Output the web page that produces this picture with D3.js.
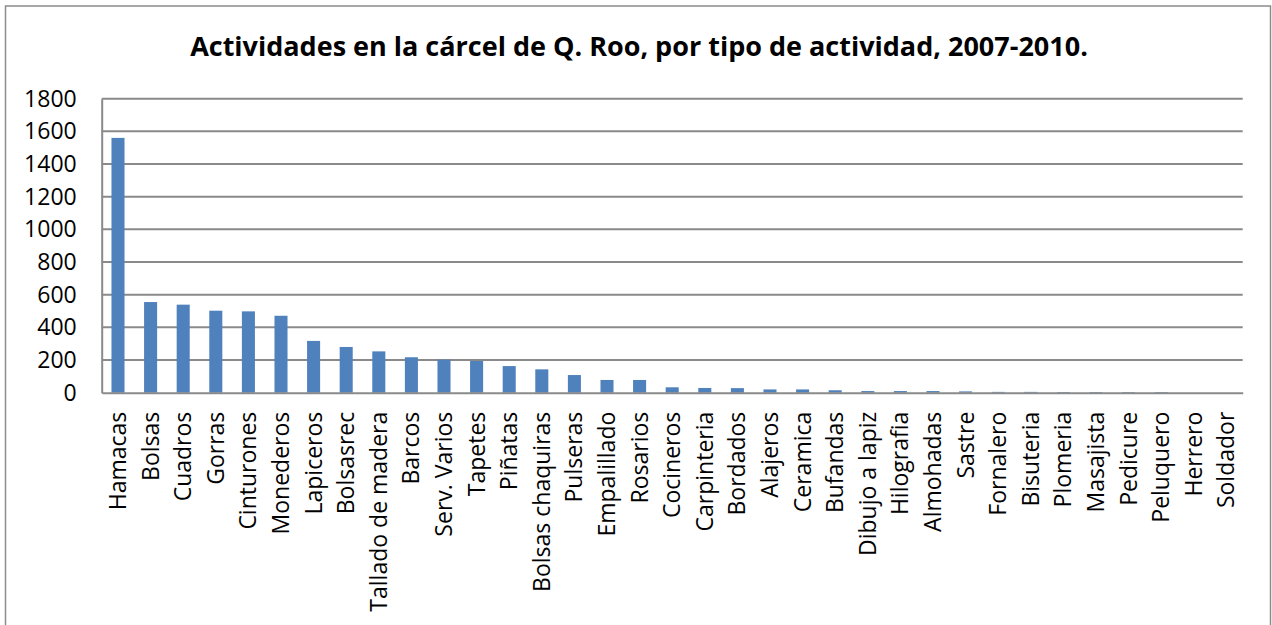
<!DOCTYPE html>
<html>
<head>
<meta charset="utf-8">
<script src="https://cdn.jsdelivr.net/npm/d3@7"></script>
<style>
  body { margin: 0; background: #fff; }
  svg { display: block; font-family: "Open Sans", sans-serif; }
</style>
</head>
<body>
<div id="wrapper"></div>
<script>
const titleText = "Actividades en la cárcel de Q. Roo, por tipo de actividad, 2007-2010."

const categories = [
  "Hamacas", "Bolsas", "Cuadros", "Gorras", "Cinturones", "Monederos",
  "Lapiceros", "Bolsasrec", "Tallado de madera", "Barcos", "Serv. Varios",
  "Tapetes", "Piñatas", "Bolsas chaquiras", "Pulseras", "Empalillado",
  "Rosarios", "Cocineros", "Carpinteria", "Bordados", "Alajeros", "Ceramica",
  "Bufandas", "Dibujo a lapiz", "Hilografia", "Almohadas", "Sastre",
  "Fornalero", "Bisuteria", "Plomeria", "Masajista", "Pedicure", "Peluquero",
  "Herrero", "Soldador"
]
const values = [
  1560, 555, 539, 502, 498, 471,
  317, 280, 253, 217, 202,
  194, 163, 143, 108, 78,
  78, 33, 29, 28, 20, 20,
  15, 10, 10, 10, 8,
  5, 5, 4, 4, 4, 4,
  0, 0
]
const yTicks = [0, 200, 400, 600, 800, 1000, 1200, 1400, 1600, 1800]

const dataset = categories.map((c, i) => ({ name: c, value: values[i] }))
const xAccessor = d => d.name
const yAccessor = d => d.value

const dimensions = {
  width: 1272,
  height: 625,
  margin: { top: 98.7, right: 29.3, bottom: 232.3, left: 101.7 },
}
dimensions.boundedWidth = dimensions.width - dimensions.margin.left - dimensions.margin.right
dimensions.boundedHeight = dimensions.height - dimensions.margin.top - dimensions.margin.bottom

const wrapper = d3.select("#wrapper")
  .append("svg")
  .attr("width", dimensions.width)
  .attr("height", dimensions.height)

// outer chart border
wrapper.append("rect")
  .attr("x", 5.5)
  .attr("y", 6)
  .attr("width", 1265)
  .attr("height", 640)
  .attr("fill", "none")
  .attr("stroke", "#8c8c8c")
  .attr("stroke-width", 1.5)

wrapper.append("text")
  .attr("x", 639)
  .attr("y", 56)
  .attr("text-anchor", "middle")
  .style("font-size", "27px")
  .style("font-weight", "bold")
  .text(titleText)

const bounds = wrapper.append("g")
  .attr("transform", `translate(${dimensions.margin.left},${dimensions.margin.top})`)

const xScale = d3.scaleBand()
  .domain(categories)
  .range([0, dimensions.boundedWidth])
  .paddingInner(0.6)
  .paddingOuter(0.3)

const yScale = d3.scaleLinear()
  .domain([0, 1800])
  .range([dimensions.boundedHeight, 0])

// gridlines
bounds.append("g")
  .selectAll("line")
  .data(yTicks.filter(t => t > 0))
  .join("line")
  .attr("x1", 0)
  .attr("x2", dimensions.boundedWidth)
  .attr("y1", d => yScale(d))
  .attr("y2", d => yScale(d))
  .attr("stroke", "#8a8a8a")
  .attr("stroke-width", 2)

// bars
bounds.append("g")
  .selectAll("rect")
  .data(dataset)
  .join("rect")
  .attr("x", d => xScale(xAccessor(d)))
  .attr("width", xScale.bandwidth())
  .attr("y", d => yScale(yAccessor(d)))
  .attr("height", d => dimensions.boundedHeight - yScale(yAccessor(d)))
  .attr("fill", "#4f81bd")

// y axis
const yAxisGenerator = d3.axisLeft(yScale)
  .tickValues(yTicks)
  .tickFormat(d3.format("d"))
  .tickSize(0)
  .tickPadding(25)
const yAxis = bounds.append("g").call(yAxisGenerator)
yAxis.select(".domain")
  .attr("stroke", "#8a8a8a")
  .attr("stroke-width", 2)
yAxis.selectAll("text")
  .style("font-size", "23px")
  .style("font-family", "Open Sans")
  .attr("fill", "#000")

// x axis
const xAxisGenerator = d3.axisBottom(xScale).tickSize(0).tickPadding(0)
const xAxis = bounds.append("g")
  .attr("transform", `translate(0,${dimensions.boundedHeight})`)
  .call(xAxisGenerator)
xAxis.select(".domain")
  .attr("stroke", "#8a8a8a")
  .attr("stroke-width", 2)
xAxis.selectAll("text")
  .style("font-size", "23px")
  .style("font-family", "Open Sans")
  .attr("fill", "#000")
  .attr("text-anchor", "end")
  .attr("dy", "0.35em")
  .attr("transform", "translate(0,19) rotate(-90)")
  .attr("y", 0)
  .attr("x", 0)
</script>
</body>
</html>
